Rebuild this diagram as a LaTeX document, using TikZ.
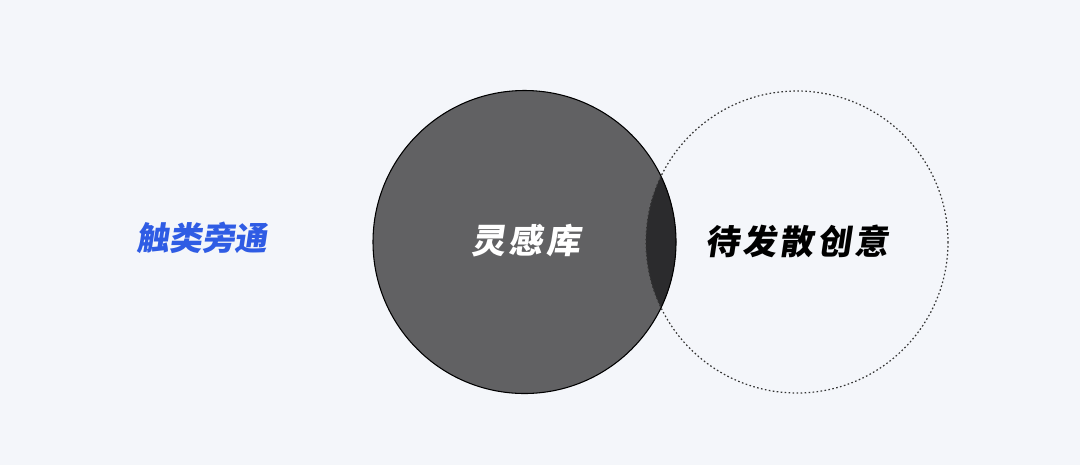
\documentclass[tikz,border=0pt]{standalone}
\usepackage{fontspec}
\newfontfamily\cjk{Noto Sans CJK SC}[FakeSlant=0.15]
\newfontfamily\cjkwide{Noto Sans CJK SC}[FakeSlant=0.15, LetterSpace=10]
\usetikzlibrary{positioning}
\definecolor{bgcol}{HTML}{F4F6FA}
\definecolor{libcol}{HTML}{616163}
\definecolor{overcol}{HTML}{2B2B2D}
\definecolor{bluecol}{HTML}{2F5CE4}
\begin{document}
\begin{tikzpicture}[x=0.75pt, y=-0.75pt,
    label text/.style={font=\cjkwide\bfseries\fontsize{25.5}{30}\selectfont, inner sep=0pt}]
      % Background
      \fill[bgcol] (0,0) rectangle (1080,465);
      \useasboundingbox (0,0) rectangle (1080,465);
      
      % Circle centres
      \coordinate (lib) at (524.5,242);
      \coordinate (idea) at (797,242);
      
      % Inspiration library circle
      \fill[libcol] (lib) circle (151.5);
      
      % Overlap of the two circles
      \begin{scope}
          \clip (lib) circle (151.5);
          \fill[overcol] (idea) circle (151);
      \end{scope}
      
      \draw[black, line width=0.8pt] (lib) circle (151.5);
      \draw[black!80, line width=0.9pt, dash pattern=on 1.2pt off 1.8pt] (idea) circle (151);
      
      % Labels
      \node[label text, white] (libtext) at (526,241) {灵感库};
      \node[label text, black] (ideatext) at (797,241) {待发散创意};
      \node[label text, bluecol, font=\cjk\bfseries\fontsize{24.5}{28}\selectfont] (analogy) at (202,238) {触类旁通};
\end{tikzpicture}
\end{document}
